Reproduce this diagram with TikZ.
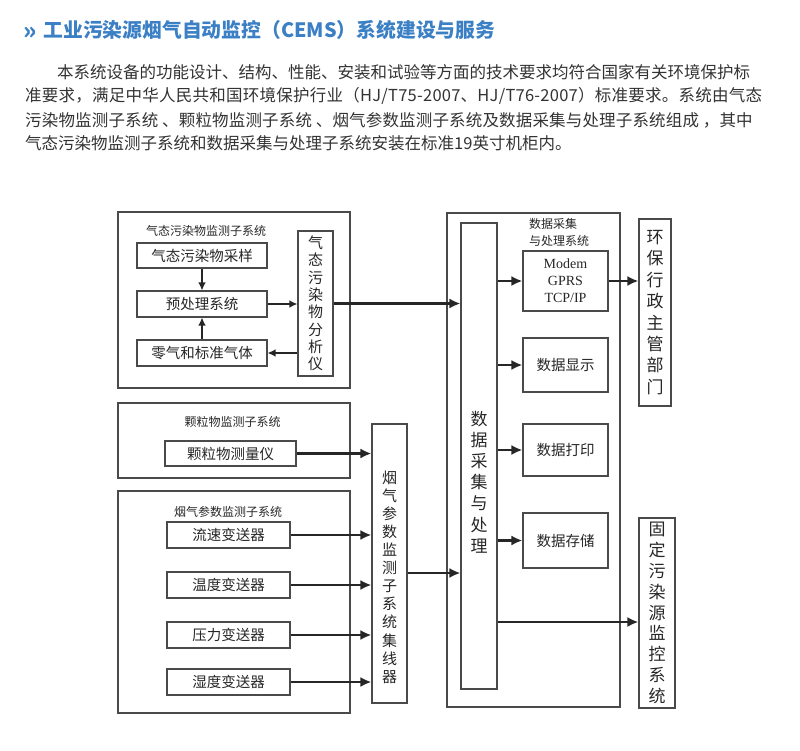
\documentclass[tikz,border=0pt]{standalone}
\usepackage{fontspec}
\setmainfont{Noto Sans CJK SC}
\newfontfamily\timesfont{Liberation Serif}
\usetikzlibrary{arrows.meta}

\definecolor{titleblue}{HTML}{3B7FC4}
\definecolor{paragray}{HTML}{333333}
\definecolor{linegray}{HTML}{4A4A4A}

\tikzset{
  box/.style={draw=linegray, line width=1.1pt, inner sep=0pt, text=black!85},
  unit/.style={box, font=\fontsize{14.5}{17}\selectfont},
  group/.style={box, line width=1.2pt},
  grouplabel/.style={font=\fontsize{12}{14}\selectfont, text=black!85, inner sep=0pt},
  paraline/.style={anchor=west, inner sep=0pt, text=paragray, font=\fontsize{16.5}{18}\selectfont},
  thinarrow/.style={-{Latex[length=8pt,width=7.5pt]}, line width=1.2pt, draw=black!85},
  thickarrow/.style={-{Latex[length=11pt,width=10pt]}, line width=2.6pt, draw=black!85},
}

\begin{document}
\begin{tikzpicture}[x=1pt,y=-1pt]
    \useasboundingbox (0,0) rectangle (800,750);

    % heading and text
    \node[anchor=west, inner sep=0pt, text=titleblue, font=\fontsize{19.8}{20}\selectfont\bfseries] (title) at (23,30)
        {\raisebox{-1.8pt}{\fontsize{24}{24}\selectfont »}\hspace{7pt}工业污染源烟气自动监控（CEMS）系统建设与服务};
    \node[paraline] (line1) at (57,72) {本系统设备的功能设计、结构、性能、安装和试验等方面的技术要求均符合国家有关环境保护标};
    \node[paraline] (line2) at (25,96) {\addfontfeatures{LetterSpace=1.5}准要求，满足中华人民共和国环境保护行业（HJ/T75-2007、HJ/T76-2007）标准要求。系统由气态};
    \node[paraline] (line3) at (25,120) {\addfontfeatures{LetterSpace=1.0}污染物监测子系统 、颗粒物监测子系统 、烟气参数监测子系统及数据采集与处理子系统组成 ，其中};
    \node[paraline] (line4) at (25,143) {气态污染物监测子系统和数据采集与处理子系统安装在标准19英寸机柜内。};

    % subsystem frames
    \node[group, minimum width=232pt, minimum height=176pt] (gasgroup) at (234,300) {};
    \node[group, minimum width=232pt, minimum height=75pt] (dustgroup) at (234,440.5) {};
    \node[group, minimum width=232pt, minimum height=222pt] (fluegroup) at (234,602) {};
    \node[group, minimum width=173pt, minimum height=494pt] (datagroup) at (533.5,460) {};

    \node[grouplabel] (gaslabel) at (206,231) {气态污染物监测子系统};
    \node[grouplabel] (dustlabel) at (232.5,422) {颗粒物监测子系统};
    \node[grouplabel] (fluelabel) at (228,512) {烟气参数监测子系统};
    \node[grouplabel, anchor=west, align=left, font=\fontsize{12}{17}\selectfont] (datalabel) at (529,232.5) {数据采集\\与处理系统};

    % gas pollutant part
    \node[unit, minimum width=130pt, minimum height=25pt] (sample) at (202,255.5) {气态污染物采样};
    \node[unit, minimum width=130pt, minimum height=26pt] (pretreat) at (202,304) {预处理系统};
    \node[unit, minimum width=130pt, minimum height=26pt] (zerogas) at (202,353) {零气和标准气体};
    \node[box, minimum width=35pt, minimum height=145pt, align=center, font=\fontsize{15}{17.3}\selectfont] (analyzer) at (315.5,303.5)
        {气\\态\\污\\染\\物\\分\\析\\仪};

    % dust and flue gas part
    \node[unit, minimum width=131pt, minimum height=25pt] (dustmeter) at (230.5,453.5) {颗粒物测量仪};
    \node[unit, minimum width=123pt, minimum height=26pt] (flow) at (228.5,535) {流速变送器};
    \node[unit, minimum width=123pt, minimum height=26pt] (temp) at (228.5,585) {温度变送器};
    \node[unit, minimum width=123pt, minimum height=26pt] (press) at (228.5,635) {压力变送器};
    \node[unit, minimum width=123pt, minimum height=26pt] (humid) at (228.5,682) {湿度变送器};
    \node[box, minimum width=35pt, minimum height=279pt,
          label={[align=center, yshift=-13.5pt, font=\fontsize{15}{18.1}\selectfont, text=black!85]center:烟\\气\\参\\数\\监\\测\\子\\系\\统\\集\\线\\器}] (hub) at (389.5,563.5) {};

    % data acquisition part
    \node[box, minimum width=36pt, minimum height=466pt,
          label={[align=center, yshift=-26pt, font=\fontsize{17}{21.2}\selectfont, text=black!85]center:数\\据\\采\\集\\与\\处\\理}] (dataproc) at (479,456) {};
    \node[box, minimum width=85pt, minimum height=60pt, align=center, font=\timesfont\fontsize{14}{17}\selectfont] (modem) at (565.5,281) {Modem\\GPRS\\TCP/IP};
    \node[unit, minimum width=85pt, minimum height=54pt] (display) at (565.5,365) {数据显示};
    \node[unit, minimum width=85pt, minimum height=52pt] (printer) at (565.5,450) {数据打印};
    \node[unit, minimum width=85pt, minimum height=55pt] (storage) at (565.5,540.5) {数据存储};

    % receivers
    \node[box, minimum width=32pt, minimum height=187pt, align=center, font=\fontsize{17}{21.4}\selectfont] (epa) at (655,312.5)
        {环\\保\\行\\政\\主\\管\\部\\门};
    \node[box, minimum width=36pt, minimum height=190pt, align=center, font=\fontsize{17}{20.9}\selectfont] (fixedsrc) at (657,613)
        {固\\定\\污\\染\\源\\监\\控\\系\\统};

    % connections
    \draw[thinarrow] (sample) -- (pretreat);
    \draw[thinarrow] (zerogas) -- (pretreat);
    \draw[thinarrow] (pretreat.east) -- (pretreat.east -| analyzer.west);
    \draw[thinarrow] (analyzer.west |- zerogas) -- (zerogas.east);
    \draw[thickarrow] (analyzer.east) -- (analyzer.east -| dataproc.west);

    \draw[thickarrow] (dustmeter.east) -- (dustmeter.east -| hub.west);
    \foreach \sensor in {flow,temp,press,humid}
        \draw[thickarrow] (\sensor.east) -- (\sensor.east -| hub.west);
    \draw[thickarrow] ([yshift=-9.5pt]hub.east) -- ([yshift=-9.5pt]hub.east -| dataproc.west);

    \foreach \out in {modem,display,printer,storage}
        \draw[thickarrow] (\out.west -| dataproc.east) -- (\out.west);
    \draw[thickarrow] (modem.east) -- (modem.east -| epa.west);
    \draw[thickarrow] ([yshift=-9pt]fixedsrc.west -| dataproc.east) -- ([yshift=-9pt]fixedsrc.west);
\end{tikzpicture}
\end{document}
